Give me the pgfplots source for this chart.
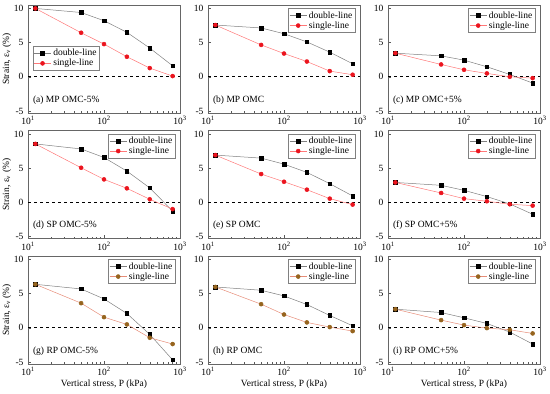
\documentclass[border=0pt]{standalone}
\usepackage{fontspec}
\setmainfont{Liberation Serif}
\usepackage{pgfplots}
\pgfplotsset{compat=1.18}
\usepgfplotslibrary{groupplots}
\usetikzlibrary{calc}
\definecolor{dbl}{RGB}{128,128,128}
\definecolor{sgl}{RGB}{255,120,120}
\definecolor{sglm}{RGB}{235,20,30}
\definecolor{brl}{RGB}{230,140,120}
\definecolor{brm}{RGB}{150,100,30}
\newcommand{\fs}{\fontsize{9.5}{10.5}\selectfont}
\pgfplotsset{
  dstyle/.style={color=dbl, line width=0.5pt, mark=square*, mark size=1.8pt, mark options={fill=black, draw=black}},
  sstyle/.style={color=sgl, line width=0.5pt, mark=*, mark size=2pt, mark options={fill=sglm, draw=sglm}},
  bstyle/.style={color=brl, line width=0.5pt, mark=*, mark size=2pt, mark options={fill=brm, draw=brm}},
  zeroline/.style={black, dashed, line width=0.6pt, forget plot},
}
\begin{document}
\begin{tikzpicture}
\begin{groupplot}[
  group style={group size=3 by 3, horizontal sep=28pt, vertical sep=17.5pt},
  scale only axis, width=152pt, height=108pt,
  xmode=log, xmin=10, xmax=1000, ymin=-5.3, ymax=10.5,
  xtick={10,100,1000}, xticklabels={10\textsuperscript{1},10\textsuperscript{2},10\textsuperscript{3}},
  ytick={-5,0,5,10},
  /pgf/number format/assume math mode=true,
  tick label style={font=\fs},
  label style={font=\fs},
  tick align=inside, tick pos=left,
  major tick length=3pt, minor tick length=1.5pt,
  axis line style={draw=gray!80!black, line width=0.7pt},
  every tick/.style={gray!70!black},
  xticklabel style={yshift=0pt},
  yticklabel style={xshift=-1pt},
  ylabel style={yshift=-4pt},
  xlabel style={yshift=3pt},
  legend style={font=\fs, draw=gray, line width=0.4pt, inner sep=1pt, row sep=-2pt, cells={anchor=west}},
  legend cell align=left,
  legend pos=north east,
]
% (a)
\nextgroupplot[ylabel={Strain, ε\textsubscript{v} (\%)}, legend style={at={(0.03,0.62)}, anchor=north west}]
\addplot[zeroline] coordinates {(10,0) (1000,0)};
\addplot[dstyle] coordinates {(12.5,10.0) (50,9.4) (100,8.2) (200,6.5) (400,4.2) (800,1.6)};
\addplot[sstyle] coordinates {(12.5,10.0) (50,6.44) (100,4.78) (200,2.93) (400,1.27) (800,0.1)};
\legend{double-line,single-line}
\node[anchor=west, font=\fs] at (rel axis cs:0.01,0.12) {(a) MP OMC-5\%};
% (b)
\nextgroupplot
\addplot[zeroline] coordinates {(10,0) (1000,0)};
\addplot[dstyle] coordinates {(12.5,7.57) (50,7.14) (100,6.3) (200,5.1) (400,3.6) (800,1.9)};
\addplot[sstyle] coordinates {(12.5,7.57) (50,4.66) (100,3.4) (200,2.23) (400,0.83) (800,0.3)};
\legend{double-line,single-line}
\node[anchor=west, font=\fs] at (rel axis cs:0.01,0.12) {(b) MP OMC};
% (c)
\nextgroupplot
\addplot[zeroline] coordinates {(10,0) (1000,0)};
\addplot[dstyle] coordinates {(12.5,3.45) (50,3.06) (100,2.43) (200,1.46) (400,0.34) (800,-0.92)};
\addplot[sstyle] coordinates {(12.5,3.45) (50,1.8) (100,1.02) (200,0.49) (400,0.0) (800,-0.2)};
\legend{double-line,single-line}
\node[anchor=west, font=\fs] at (rel axis cs:0.01,0.12) {(c) MP OMC+5\%};
% (d)
\nextgroupplot[ylabel={Strain, ε\textsubscript{v} (\%)}]
\addplot[zeroline] coordinates {(10,0) (1000,0)};
\addplot[dstyle] coordinates {(12.5,8.54) (50,7.8) (100,6.55) (200,4.56) (400,2.1) (800,-1.3)};
\addplot[sstyle] coordinates {(12.5,8.54) (50,5.05) (100,3.35) (200,2.04) (400,0.44) (800,-1.0)};
\legend{double-line,single-line}
\node[anchor=west, font=\fs] at (rel axis cs:0.01,0.12) {(d) SP OMC-5\%};
% (e)
\nextgroupplot
\addplot[zeroline] coordinates {(10,0) (1000,0)};
\addplot[dstyle] coordinates {(12.5,6.9) (50,6.46) (100,5.58) (200,4.37) (400,2.72) (800,0.92)};
\addplot[sstyle] coordinates {(12.5,6.9) (50,4.13) (100,3.0) (200,1.84) (400,0.53) (800,-0.34)};
\legend{double-line,single-line}
\node[anchor=west, font=\fs] at (rel axis cs:0.01,0.12) {(e) SP OMC};
% (f)
\nextgroupplot
\addplot[zeroline] coordinates {(10,0) (1000,0)};
\addplot[dstyle] coordinates {(12.5,2.9) (50,2.48) (100,1.75) (200,0.83) (400,-0.24) (800,-1.75)};
\addplot[sstyle] coordinates {(12.5,2.9) (50,1.36) (100,0.53) (200,0.15) (400,-0.29) (800,-0.49)};
\legend{double-line,single-line}
\node[anchor=west, font=\fs] at (rel axis cs:0.01,0.12) {(f) SP OMC+5\%};
% (g)
\nextgroupplot[ylabel={Strain, ε\textsubscript{v} (\%)}, xlabel={Vertical stress, P (kPa)}]
\addplot[zeroline] coordinates {(10,0) (1000,0)};
\addplot[dstyle] coordinates {(12.5,6.36) (50,5.68) (100,4.22) (200,2.09) (400,-0.97) (800,-4.7)};
\addplot[bstyle] coordinates {(12.5,6.36) (50,3.6) (100,1.55) (200,0.49) (400,-1.46) (800,-2.38)};
\legend{double-line,single-line}
\node[anchor=west, font=\fs] at (rel axis cs:0.01,0.12) {(g) RP OMC-5\%};
% (h)
\nextgroupplot[xlabel={Vertical stress, P (kPa)}]
\addplot[zeroline] coordinates {(10,0) (1000,0)};
\addplot[dstyle] coordinates {(12.5,5.97) (50,5.49) (100,4.66) (200,3.4) (400,1.8) (800,0.29)};
\addplot[bstyle] coordinates {(12.5,5.97) (50,3.45) (100,1.94) (200,0.78) (400,0.1) (800,-0.49)};
\legend{double-line,single-line}
\node[anchor=west, font=\fs] at (rel axis cs:0.01,0.12) {(h) RP OMC};
% (i)
\nextgroupplot[xlabel={Vertical stress, P (kPa)}]
\addplot[zeroline] coordinates {(10,0) (1000,0)};
\addplot[dstyle] coordinates {(12.5,2.72) (50,2.23) (100,1.46) (200,0.63) (400,-0.63) (800,-2.38)};
\addplot[bstyle] coordinates {(12.5,2.72) (50,1.12) (100,0.39) (200,-0.05) (400,-0.29) (800,-0.83)};
\legend{double-line,single-line}
\node[anchor=west, font=\fs] at (rel axis cs:0.01,0.12) {(i) RP OMC+5\%};
\end{groupplot}
\pgfresetboundingbox
\path[use as bounding box] ($(group c1r1.north west)+(-28pt,5pt)$) rectangle ($(group c3r3.south east)+(10pt,-30pt)$);
\end{tikzpicture}
\end{document}
